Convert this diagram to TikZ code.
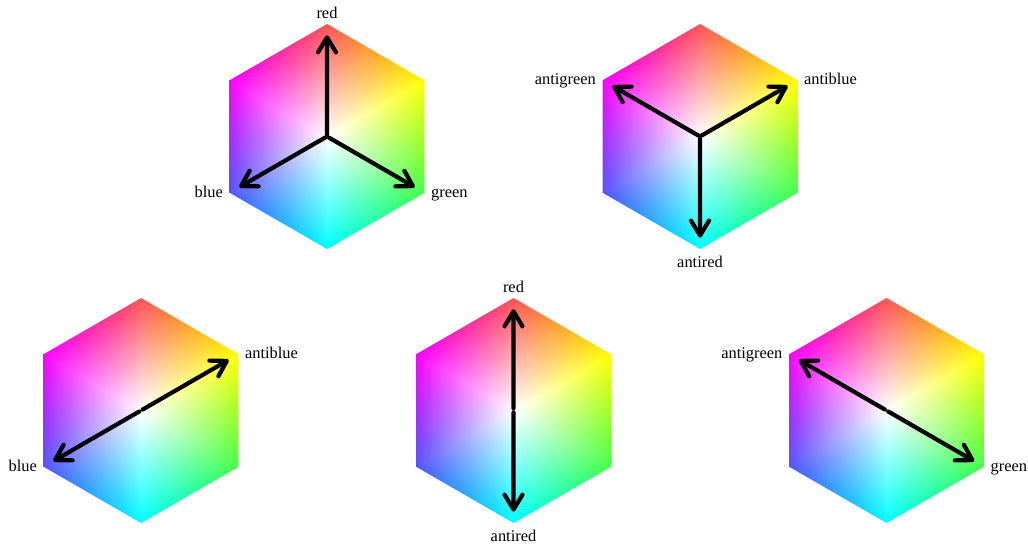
\documentclass[tikz,border=0pt]{standalone}
\usepackage{fontspec}
\setmainfont{Liberation Serif}
\usetikzlibrary{arrows.meta,calc}
\pgfdeclarefunctionalshading{hexshade}{\pgfpoint{-100bp}{-115bp}}{\pgfpoint{100bp}{115bp}}{}{
0.0029630 mul exch 0.0051320 mul
1 index 2 mul
3 1 roll
2 copy exch sub
3 1 roll
add neg
3 copy 2 copy lt {exch} if pop 2 copy lt {exch} if pop
1 exch sub
4 1 roll
3 index add
3 1 roll
3 index add
3 1 roll
3 index add
4 -1 roll pop
3 1 roll
3 copy 2 copy lt {exch} if pop sub 0 2 copy lt {exch} if pop
3 index 3 index 3 index exch 3 1 roll 2 copy lt {exch} if pop sub 0 2 copy lt {exch} if pop
4 index 4 index 4 index 3 1 roll 2 copy lt {exch} if pop sub 0 2 copy lt {exch} if pop
0.33 mul exch 0.27 mul exch 3 -1 roll 0.33 mul 3 1 roll
5 index 2 index add 1 index add
5 index 4 index add 2 index add
5 index 5 index add 4 index add
9 3 roll pop pop pop pop pop pop
}
\tikzset{
  hexcell/.style={inner sep=0pt,outer sep=0pt},
  axisarrow/.style={line width=4.2bp,-{Straight Barb[length=15bp,width=18bp,round]},line cap=round,line join=round,shorten <=2bp},
  lbl/.style={font=\fontsize{16.4bp}{18bp}\selectfont,inner sep=0pt},
  toplbl/.style={lbl,anchor=base,yshift=5.7bp},
  botlbl/.style={lbl,anchor=base,yshift=-18.7bp},
  leftlbl/.style={lbl,anchor=base east,xshift=-6.5bp,yshift=-4.5bp},
  rightlbl/.style={lbl,anchor=base west,xshift=6.5bp,yshift=-4.5bp}
}
\newcommand\colorhex[2]{%
  \coordinate (#1) at #2;
  \foreach \a [count=\i] in {90,30,-30,-90,-150,150} {\coordinate (#1v\i) at ($(#1)+(\a:112.5)$);}
  \begin{scope}
    \clip (#1v1) -- (#1v2) -- (#1v3) -- (#1v4) -- (#1v5) -- (#1v6) -- cycle;
    \node[hexcell] (#1s) at (#1) {\pgfuseshading{hexshade}};
  \end{scope}
}
\begin{document}
\begin{tikzpicture}[x=1bp,y=1bp]
\useasboundingbox (0,0) rectangle (1028,547);
\fill[white] (0,0) rectangle (1028,547);
\colorhex{ha}{(327,410.5)}
\colorhex{hb}{(700,410.5)}
\colorhex{hc}{(141,136.5)}
\colorhex{hd}{(513.5,136.5)}
\colorhex{he}{(886.5,136.5)}
% hexagon 1
\node[toplbl] (la1) at (hav1) {red};
\node[leftlbl] (la5) at (hav5) {blue};
\node[rightlbl] (la3) at (hav3) {green};
\draw[axisarrow] (ha) -- ($(ha)!0.9!(hav1)$);
\draw[axisarrow] (ha) -- ($(ha)!0.9!(hav5)$);
\draw[axisarrow] (ha) -- ($(ha)!0.9!(hav3)$);
% hexagon 2
\node[leftlbl] (lb6) at (hbv6) {antigreen};
\node[rightlbl] (lb2) at (hbv2) {antiblue};
\node[botlbl] (lb4) at (hbv4) {antired};
\draw[axisarrow] (hb) -- ($(hb)!0.9!(hbv6)$);
\draw[axisarrow] (hb) -- ($(hb)!0.9!(hbv2)$);
\draw[axisarrow] (hb) -- ($(hb)!0.9!(hbv4)$);
% hexagon 3
\node[rightlbl] (lc2) at (hcv2) {antiblue};
\node[leftlbl] (lc5) at (hcv5) {blue};
\draw[axisarrow] (hc) -- ($(hc)!0.9!(hcv2)$);
\draw[axisarrow] (hc) -- ($(hc)!0.9!(hcv5)$);
% hexagon 4
\node[toplbl] (ld1) at (hdv1) {red};
\node[botlbl] (ld4) at (hdv4) {antired};
\draw[axisarrow] (hd) -- ($(hd)!0.9!(hdv1)$);
\draw[axisarrow] (hd) -- ($(hd)!0.9!(hdv4)$);
% hexagon 5
\node[leftlbl] (le6) at (hev6) {antigreen};
\node[rightlbl] (le3) at (hev3) {green};
\draw[axisarrow] (he) -- ($(he)!0.9!(hev6)$);
\draw[axisarrow] (he) -- ($(he)!0.9!(hev3)$);
\end{tikzpicture}
\end{document}
